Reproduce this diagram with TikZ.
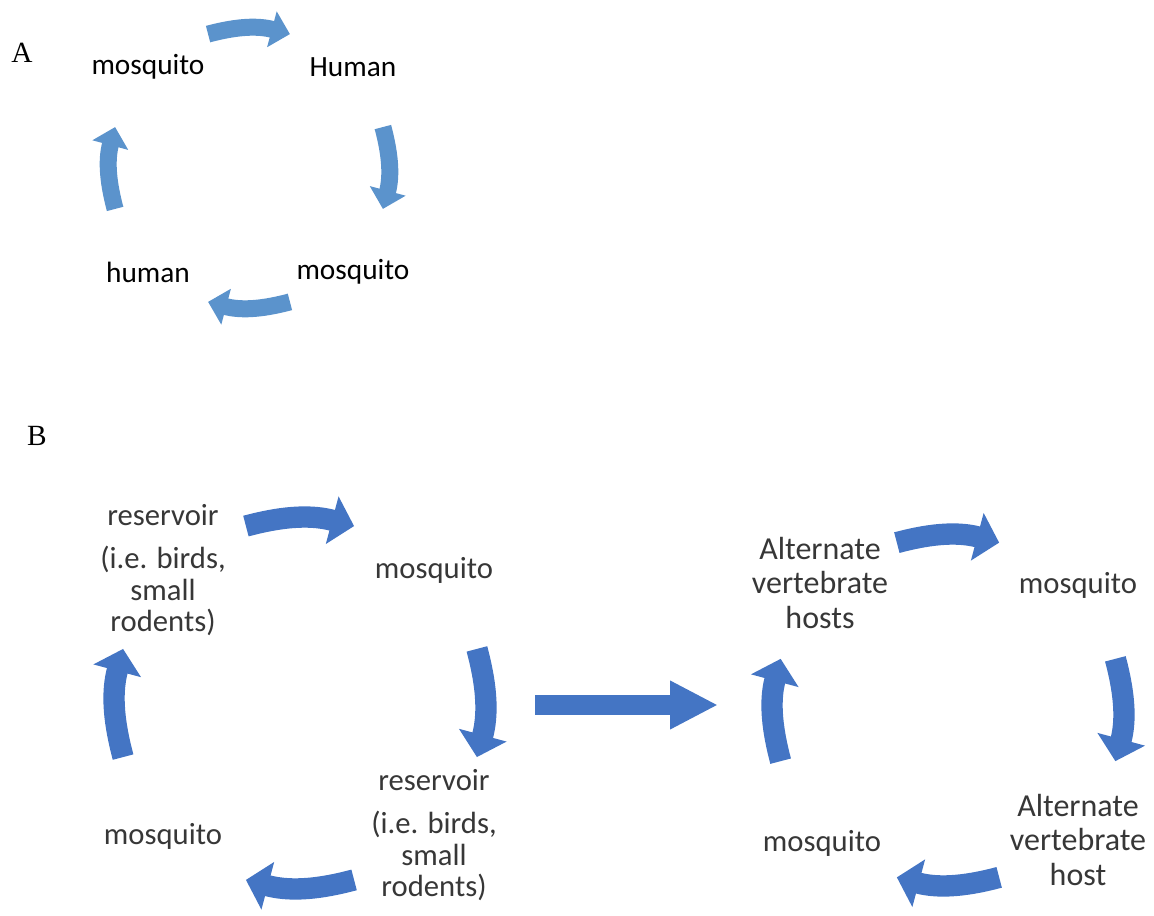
\documentclass[tikz,border=0pt]{standalone}
\usepackage{fontspec}
\setmainfont{Carlito}
\newfontfamily\timesfont{Liberation Serif}
\usetikzlibrary{arrows.meta}
\definecolor{color1}{RGB}{91,147,204}
\definecolor{color2}{RGB}{68,117,196}
\definecolor{color3}{RGB}{55,55,55}

\tikzset{
  LabelA/.style   = {font=\fontsize{22}{26}\selectfont, text=black},
  LabelB/.style   = {font=\fontsize{23}{23.5}\selectfont, text=color3, align=center},
  LabelAlt/.style = {font=\fontsize{24}{26}\selectfont, text=color3, align=center},
  PanelTag/.style = {font=\timesfont\fontsize{22}{26}\selectfont},
  CycA/.style     = {draw=color1, line width=12.75pt,
                     -{Triangle[width=27pt,length=14pt]}},
  CycB/.style     = {draw=color2, line width=16pt,
                     -{Triangle[width=36pt,length=17pt]}},
  BigArrow/.style = {draw=color2, line width=15pt,
                     -{Triangle[width=34pt,length=36pt]}}
}

\begin{document}
\begin{tikzpicture}[x=0.75pt,y=0.75pt]
\useasboundingbox (0,0) rectangle (1154,915);

%part A
\node[PanelTag] (tagA) at (22,862) {A};
\node[LabelA] (mosA1) at (148,848) {mosquito};
\node[LabelA] (humA1) at (353,848) {Human};
\node[LabelA] (mosA2) at (353,643) {mosquito};
\node[LabelA] (humA2) at (148,643) {human};

\coordinate (cA) at (249,747);
\path (cA) ++(107:140) coordinate (aTopS);
\path (cA) ++(73:140)  coordinate (aTopE);
\path (cA) ++(17:140)  coordinate (aRgtS);
\path (cA) ++(-17:140) coordinate (aRgtE);
\path (cA) ++(-73:140) coordinate (aBotS);
\path (cA) ++(-107:140) coordinate (aBotE);
\path (cA) ++(197:140) coordinate (aLftS);
\path (cA) ++(163:140) coordinate (aLftE);

\draw[CycA] (aTopS) to[bend left=15] (aTopE);
\draw[CycA] (aRgtS) to[bend left=15] (aRgtE);
\draw[CycA] (aBotS) to[bend left=15] (aBotE);
\draw[CycA] (aLftS) to[bend left=15] (aLftE);

%part B, reservoir cycle
\node[PanelTag] (tagB) at (37,479) {B};
\node[LabelB] (resTop) at (163,345) {reservoir\\[9pt](i.e. birds,\\small\\rodents)};
\node[LabelB] (mosB1) at (434,345) {mosquito};
\node[LabelB] (resBot) at (434,80) {reservoir\\[9pt](i.e. birds,\\small\\rodents)};
\node[LabelB] (mosB2) at (163,79) {mosquito};

\coordinate (cB) at (300,212);
\path (cB) ++(107:185) coordinate (bTopS);
\path (cB) ++(73:185)  coordinate (bTopE);
\path (cB) ++(17:185)  coordinate (bRgtS);
\path (cB) ++(-17:185) coordinate (bRgtE);
\path (cB) ++(-73:185) coordinate (bBotS);
\path (cB) ++(-107:185) coordinate (bBotE);
\path (cB) ++(197:185) coordinate (bLftS);
\path (cB) ++(163:185) coordinate (bLftE);

\draw[CycB] (bTopS) to[bend left=15] (bTopE);
\draw[CycB] (bRgtS) to[bend left=15] (bRgtE);
\draw[CycB] (bBotS) to[bend left=15] (bBotE);
\draw[CycB] (bLftS) to[bend left=15] (bLftE);

% middle arrow
\coordinate (midS) at (535,210);
\coordinate (midE) at (718,210);
\draw[BigArrow] (midS) -- (midE);

%part B, alternate host cycle
\node[LabelAlt] (altTop) at (820,332) {Alternate\\vertebrate\\hosts};
\node[LabelB] (mosC1) at (1078,330) {mosquito};
\node[LabelAlt] (altBot) at (1078,75) {Alternate\\vertebrate\\host};
\node[LabelB] (mosC2) at (822,72) {mosquito};

\coordinate (cC) at (948,205);
\path (cC) ++(107:175) coordinate (cTopS);
\path (cC) ++(73:175)  coordinate (cTopE);
\path (cC) ++(17:175)  coordinate (cRgtS);
\path (cC) ++(-17:175) coordinate (cRgtE);
\path (cC) ++(-73:175) coordinate (cBotS);
\path (cC) ++(-107:175) coordinate (cBotE);
\path (cC) ++(197:175) coordinate (cLftS);
\path (cC) ++(163:175) coordinate (cLftE);

\draw[CycB] (cTopS) to[bend left=15] (cTopE);
\draw[CycB] (cRgtS) to[bend left=15] (cRgtE);
\draw[CycB] (cBotS) to[bend left=15] (cBotE);
\draw[CycB] (cLftS) to[bend left=15] (cLftE);

\end{tikzpicture}
\end{document}
